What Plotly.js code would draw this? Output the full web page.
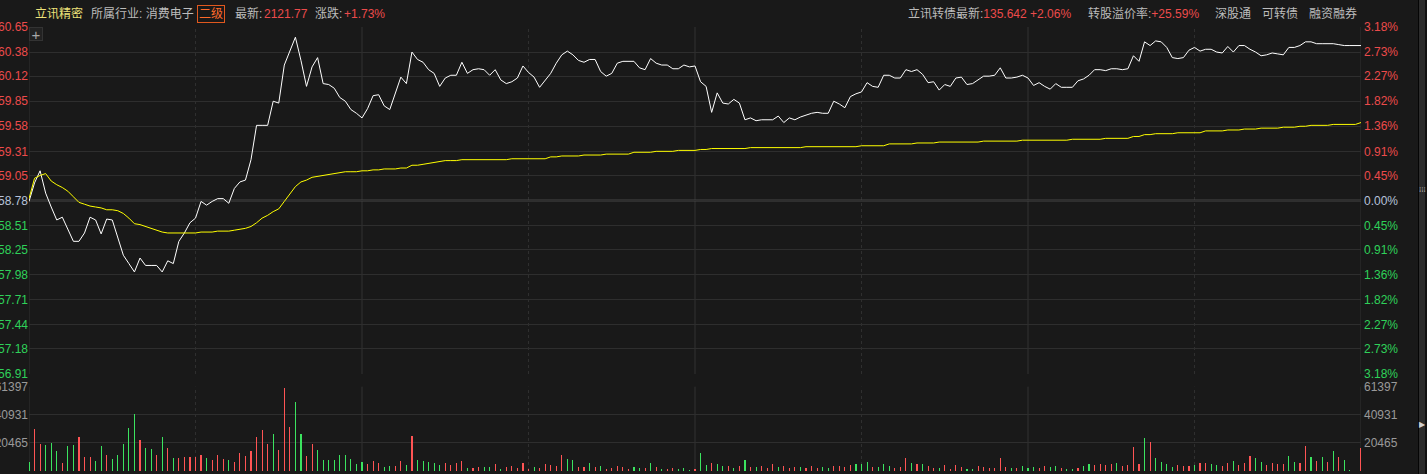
<!DOCTYPE html>
<html>
<head>
<meta charset="utf-8">
<script src="https://cdn.plot.ly/plotly-3.0.1.min.js"></script>
<style>
  html, body { margin: 0; padding: 0; background: #191919; }
  #chart { width: 1427px; height: 474px; }
</style>
</head>
<body>
<div id="chart"></div>
<script>
// ---------------- DATA ----------------
const prevClose = 58.78;

// minute index 0..240 (09:30-11:30, 13:00-15:00)
const price = [
  58.77, 58.97, 59.10, 58.86, 58.71, 58.57, 58.60, 58.47, 58.34, 58.34,
  58.43, 58.60, 58.57, 58.42, 58.58, 58.57, 58.37, 58.19, 58.10, 58.01,
  58.16, 58.08, 58.08, 58.08, 58.01, 58.13, 58.10, 58.34, 58.43, 58.54,
  58.59, 58.77, 58.73, 58.77, 58.80, 58.80, 58.75, 58.91, 58.98, 59.00,
  59.22, 59.59, 59.59, 59.59, 59.85, 59.83, 60.24, 60.38, 60.54, 60.29,
  60.01, 60.22, 60.32, 60.04, 60.03, 59.99, 59.89, 59.85, 59.76, 59.72,
  59.67, 59.77, 59.91, 59.92, 59.80, 59.76, 59.94, 60.11, 60.04, 60.38,
  60.30, 60.27, 60.19, 60.15, 60.01, 60.10, 60.13, 60.13, 60.27, 60.15,
  60.19, 60.20, 60.19, 60.13, 60.19, 60.08, 60.04, 60.06, 60.10, 60.23,
  60.16, 60.11, 60.00, 60.08, 60.15, 60.26, 60.35, 60.39, 60.35, 60.29,
  60.27, 60.30, 60.30, 60.17, 60.12, 60.15, 60.26, 60.28, 60.28, 60.28,
  60.21, 60.19, 60.31, 60.26, 60.24, 60.24, 60.20, 60.20, 60.24, 60.22,
  60.23, 60.06, 60.01, 59.73, 59.94, 59.83, 59.82, 59.87, 59.83, 59.65,
  59.67, 59.64, 59.65, 59.65, 59.65, 59.69, 59.62, 59.67, 59.65, 59.68,
  59.70, 59.72, 59.73, 59.72, 59.72, 59.85, 59.82, 59.78, 59.90, 59.93,
  59.95, 60.05, 60.01, 60.00, 60.13, 60.13, 60.10, 60.10, 60.19, 60.17,
  60.19, 60.14, 60.05, 60.06, 59.97, 60.03, 60.01, 60.10, 60.11, 60.03,
  60.04, 60.08, 60.12, 60.12, 60.13, 60.21, 60.10, 60.10, 60.11, 60.13,
  60.10, 60.02, 60.05, 60.01, 59.98, 60.04, 60.00, 60.00, 60.00, 60.07,
  60.09, 60.13, 60.19, 60.19, 60.18, 60.20, 60.20, 60.19, 60.20, 60.34,
  60.28, 60.49, 60.45, 60.50, 60.49, 60.43, 60.32, 60.31, 60.32, 60.40,
  60.43, 60.39, 60.41, 60.41, 60.38, 60.37, 60.44, 60.38, 60.45, 60.45,
  60.41, 60.38, 60.34, 60.35, 60.37, 60.36, 60.35, 60.43, 60.43, 60.45,
  60.49, 60.49, 60.47, 60.47, 60.47, 60.47, 60.46, 60.45, 60.45, 60.45,
  60.45
];

const avgPrice = [
  58.80, 59.02, 59.05, 59.07, 58.99, 58.95, 58.92, 58.88, 58.82, 58.76,
  58.74, 58.72, 58.71, 58.70, 58.68, 58.68, 58.67, 58.64, 58.59, 58.53,
  58.52, 58.50, 58.48, 58.46, 58.44, 58.43, 58.43, 58.43, 58.43, 58.43,
  58.43, 58.44, 58.44, 58.44, 58.45, 58.45, 58.45, 58.46, 58.47, 58.48,
  58.50, 58.54, 58.59, 58.62, 58.66, 58.69, 58.77, 58.85, 58.93, 58.98,
  59.00, 59.03, 59.04, 59.05, 59.06, 59.07, 59.08, 59.09, 59.09, 59.09,
  59.10, 59.10, 59.11, 59.11, 59.12, 59.12, 59.12, 59.13, 59.13, 59.16,
  59.16, 59.17, 59.18, 59.19, 59.20, 59.21, 59.21, 59.21, 59.22, 59.22,
  59.22, 59.22, 59.22, 59.22, 59.22, 59.22, 59.22, 59.23, 59.23, 59.23,
  59.23, 59.23, 59.23, 59.23, 59.25, 59.25, 59.26, 59.26, 59.26, 59.26,
  59.27, 59.27, 59.27, 59.27, 59.28, 59.28, 59.28, 59.28, 59.28, 59.30,
  59.30, 59.30, 59.30, 59.31, 59.31, 59.31, 59.31, 59.32, 59.32, 59.32,
  59.32, 59.33, 59.33, 59.34, 59.34, 59.34, 59.34, 59.34, 59.34, 59.34,
  59.35, 59.35, 59.35, 59.35, 59.35, 59.35, 59.35, 59.35, 59.35, 59.35,
  59.36, 59.36, 59.36, 59.36, 59.36, 59.36, 59.36, 59.36, 59.36, 59.36,
  59.37, 59.37, 59.37, 59.37, 59.37, 59.39, 59.39, 59.39, 59.39, 59.39,
  59.40, 59.40, 59.40, 59.40, 59.41, 59.41, 59.41, 59.41, 59.41, 59.41,
  59.41, 59.41, 59.42, 59.42, 59.42, 59.42, 59.42, 59.42, 59.42, 59.43,
  59.43, 59.43, 59.43, 59.43, 59.43, 59.43, 59.43, 59.43, 59.44, 59.44,
  59.44, 59.44, 59.44, 59.44, 59.45, 59.45, 59.45, 59.45, 59.45, 59.47,
  59.47, 59.49, 59.49, 59.50, 59.50, 59.50, 59.50, 59.51, 59.51, 59.51,
  59.51, 59.51, 59.53, 59.53, 59.53, 59.53, 59.54, 59.54, 59.54, 59.55,
  59.55, 59.55, 59.56, 59.56, 59.56, 59.56, 59.57, 59.57, 59.57, 59.58,
  59.58, 59.59, 59.59, 59.59, 59.59, 59.60, 59.60, 59.60, 59.60, 59.60,
  59.62
];

const volume = [
  6270, 30370, 20000, 18800, 20730, 14460, 5540, 18320, 18800, 24580,
  10120, 10120, 7230, 18080, 11570, 8680, 11570, 19520, 31330, 41210,
  22410, 16630, 15910, 11570, 24580, 16630, 9400, 9400, 10120, 10120,
  10120, 11570, 9400, 7950, 11570, 8680, 7950, 6510, 13010, 10850,
  14460, 24580, 29640, 19520, 26750, 15180, 60730, 31810, 50610, 26750,
  10850, 19520, 15180, 7950, 7950, 7950, 11570, 11570, 8680, 5060,
  6510, 5060, 7230, 5780, 2890, 3620, 3620, 7230, 4340, 25310,
  7950, 7230, 6510, 5780, 4340, 5780, 4340, 5780, 7230, 2170,
  2170, 2890, 2890, 2890, 5060, 1450, 2890, 3620, 2170, 5780,
  1450, 2890, 2170, 5060, 4340, 3620, 11570, 8680, 7950, 2890,
  2890, 5780, 2890, 3620, 1450, 2170, 3620, 2890, 1450, 2890,
  2170, 2170, 5780, 2890, 1450, 1450, 2170, 1450, 2170, 720,
  1450, 13010, 4340, 5780, 5060, 3620, 3620, 2170, 3620, 7950,
  2890, 2890, 3620, 2170, 5060, 2890, 3620, 2170, 2890, 2890,
  2170, 3620, 2170, 2890, 2170, 3620, 3620, 2890, 4340, 5060,
  5060, 6510, 2890, 2890, 5060, 3620, 2170, 2890, 9400, 5780,
  5060, 5060, 3620, 2170, 2170, 4340, 1450, 4340, 2890, 1450,
  1450, 3620, 2890, 2170, 2170, 9400, 2890, 2170, 2170, 3620,
  2170, 2890, 2170, 3620, 2890, 3620, 2170, 1450, 1450, 2170,
  3620, 5060, 4340, 5060, 4340, 5060, 5780, 3620, 4340, 17350,
  5060, 23860, 20970, 9400, 6510, 5060, 2890, 4340, 3620, 3620,
  4340, 5780, 5780, 5060, 4340, 3620, 5780, 7230, 4340, 5780,
  10850, 9400, 6510, 4340, 5780, 5060, 5060, 10850, 6510, 5780,
  18080, 10120, 7230, 10120, 6510, 14460, 10120, 7950, 720, 0,
  16630
];

// bar direction: r = up (red), g = down (green)
const volDir = (
  "grrgggrggrrrggrgggggrggrgrgrrrrrgrrrgrrrrrrrgrrrggrrgggggggg" +
  "grrrggrrgrgggggrrrrgrrggrgrrrrrgrrrrrggrrgrgrrrrrggrgrgrrggg" +
  "rggrggrgrgrgrrrgrrrgrrrggrrrrgggrgggrrrgrgrrgrrrrggrrrrrrgrg" +
  "ggrrggrggrggrrrrgrrrrgrggggrrrgrrggrrgrrrggrrrrggrrgrgrgrggr" +
  "r"
).split("");

const priceTicks = [60.65, 60.38, 60.12, 59.85, 59.58, 59.31, 59.05, 58.78, 58.51, 58.25, 57.98, 57.71, 57.44, 57.18, 56.91];
const pctTicks = ["3.18%", "2.73%", "2.27%", "1.82%", "1.36%", "0.91%", "0.45%", "0.00%", "0.45%", "0.91%", "1.36%", "1.82%", "2.27%", "2.73%", "3.18%"];
const volTicks = [20465, 40931, 61397];
const volTickLabels = ["20465", "40931", "61397"];

const header = {
  name: "立讯精密",
  industry: "所属行业: 消费电子",
  level: "二级",
  lastLabel: "最新:", last: "2121.77",
  chgLabel: "涨跌:", chg: "+1.73%",
  cbLabel: "立讯转债最新:", cb: "135.642 +2.06%",
  premLabel: "转股溢价率:", prem: "+25.59%",
  tags: ["深股通", "可转债", "融资融券"]
};

// ---------------- STYLE / LAYOUT ----------------
const W = 1427, H = 474;
const ML = 29, MR = 66, MT = 27, MB = 3;
const PW = W - ML - MR, PH = H - MT - MB;
const px = x => (x - ML) / PW;
const py = y => (H - MB - y) / PH;

const RED = "#ec4b4b", GREEN = "#2fd159", ZERO = "#b6c2da", GRID = "#2e2e2e";
const BG = "#191919";
const FONT = "Liberation Sans, Arial, Noto Sans CJK SC, sans-serif";

const minutes = price.map((_, i) => i);

function colorTick(v, label) {
  const c = v > prevClose + 1e-9 ? RED : (v < prevClose - 1e-9 ? GREEN : ZERO);
  return '<span style="color:' + c + '">' + label + '</span>';
}

const leftText = priceTicks.map(v => colorTick(v, v.toFixed(2)));
const rightText = priceTicks.map((v, k) => colorTick(v, pctTicks[k]));

const traces = [
  {
    x: minutes, y: price, type: "scatter", mode: "lines",
    line: { color: "#ffffff", width: 1 }, xaxis: "x", yaxis: "y", hoverinfo: "skip"
  },
  {
    x: minutes, y: avgPrice, type: "scatter", mode: "lines",
    line: { color: "#ffff00", width: 1 }, xaxis: "x", yaxis: "y2", hoverinfo: "skip"
  },
  {
    x: minutes, y: volume.map((v, i) => volDir[i] === "r" ? v : null), type: "bar",
    width: 0.2, marker: { color: "#ff5454", line: { width: 0 } }, xaxis: "x", yaxis: "y3", hoverinfo: "skip"
  },
  {
    x: minutes, y: volume.map((v, i) => volDir[i] === "g" ? v : null), type: "bar",
    width: 0.2, marker: { color: "#3be35f", line: { width: 0 } }, xaxis: "x", yaxis: "y4", hoverinfo: "skip"
  }
];

const halfHours = [0, 30, 60, 90, 120, 150, 180, 210, 240];
const shapes = [];
["y domain", "y3 domain"].forEach(yr => {
  halfHours.forEach(m => {
    const solid = (m % 60 === 0);
    shapes.push({
      type: "line", xref: "x", yref: yr, x0: m, x1: m, y0: 0, y1: 1,
      line: { color: solid ? "#333333" : "#2f2f2f", width: 1, dash: solid ? "solid" : "dot" },
      layer: "below"
    });
  });
});
shapes.push({
  type: "line", xref: "x domain", yref: "y", x0: 0, x1: 1, y0: prevClose, y1: prevClose,
  line: { color: "#474747", width: 2 }, layer: "below"
});
// right side strip
shapes.push({ type: "rect", xref: "paper", yref: "paper", x0: px(1418), x1: px(1419), y0: py(H), y1: py(0), fillcolor: "#050505", line: { width: 0 } });
shapes.push({ type: "rect", xref: "paper", yref: "paper", x0: px(1419), x1: px(1425), y0: py(H), y1: py(0), fillcolor: "#2c2c2c", line: { width: 0 } });
shapes.push({ type: "rect", xref: "paper", yref: "paper", x0: px(1425), x1: px(1427), y0: py(H), y1: py(0), fillcolor: "#121212", line: { width: 0 } });

const GRAY = "#bcbcbc";
function ann(text, x, color, extra) {
  return Object.assign({
    text: text, xref: "paper", yref: "paper", x: px(x), y: py(14),
    xanchor: "left", yanchor: "middle", showarrow: false,
    font: { family: FONT, size: 12, color: color }
  }, extra || {});
}
const annotations = [
  ann(header.name, 33, "#ede27a"),
  ann(header.industry, 89, GRAY),
  ann(header.level, 211, "#ff6a2a", { xanchor: "center", bordercolor: "#e0581e", borderwidth: 1, borderpad: 1 }),
  ann(header.lastLabel, 233, GRAY),
  ann(header.last, 262, RED),
  ann(header.chgLabel, 313, GRAY),
  ann(header.chg, 342, RED),
  ann(header.cbLabel + '<span style="color:' + RED + '">' + header.cb + '</span>', 906, GRAY),
  ann(header.premLabel + '<span style="color:' + RED + '">' + header.prem + '</span>', 1086, GRAY),
  ann(header.tags[0], 1213, GRAY),
  ann(header.tags[1], 1260, GRAY),
  ann(header.tags[2], 1307, GRAY),
  // crosshair button
  { text: "+", xref: "paper", yref: "paper", x: px(36), y: py(34), xanchor: "center", yanchor: "middle",
    showarrow: false, font: { family: FONT, size: 15, color: "#a8a8a8" },
    bgcolor: "#222222", bordercolor: "#333333", borderwidth: 1, borderpad: 0, width: 12, height: 12 },
  // strip handle and arrow
  { text: "⁞⁞⁞", xref: "paper", yref: "paper", x: px(1422), y: py(190), xanchor: "center", yanchor: "middle",
    showarrow: false, font: { family: "DejaVu Sans", size: 7, color: "#bbbbbb" } },
  { text: "▶", xref: "paper", yref: "paper", x: px(1422), y: py(424), xanchor: "center", yanchor: "middle",
    showarrow: false, font: { family: "DejaVu Sans", size: 8, color: "#d0d0d0" } }
];

const tickFont = { family: FONT, size: 12, color: "#9a9a9a" };
const priceDomain = [py(374), 1];
const volDomain = [0, py(386.7)];

const layout = {
  width: W, height: H,
  margin: { l: ML, r: MR, t: MT, b: MB, pad: 0 },
  paper_bgcolor: BG, plot_bgcolor: BG,
  showlegend: false, barmode: "overlay", bargap: 0,
  xaxis: { range: [0, 240], showgrid: false, zeroline: false, showticklabels: false, ticks: "", showline: false, anchor: "y3", fixedrange: true },
  yaxis: {
    domain: priceDomain, range: [priceTicks[priceTicks.length - 1], priceTicks[0]],
    tickmode: "array", tickvals: priceTicks, ticktext: leftText,
    showgrid: true, gridcolor: GRID, gridwidth: 1, zeroline: false, showline: false, ticks: "",
    tickfont: tickFont, side: "left", ticklabelstandoff: 0
  },
  yaxis2: {
    overlaying: "y", side: "right", range: [priceTicks[priceTicks.length - 1], priceTicks[0]],
    tickmode: "array", tickvals: priceTicks, ticktext: rightText,
    showgrid: false, zeroline: false, showline: false, ticks: "", tickfont: tickFont, ticklabelstandoff: 2
  },
  yaxis3: {
    domain: volDomain, range: [0, volTicks[volTicks.length - 1]],
    tickmode: "array", tickvals: volTicks, ticktext: volTickLabels,
    showgrid: true, gridcolor: GRID, zeroline: false, showline: false, ticks: "",
    tickfont: tickFont, side: "left", ticklabelstandoff: 0
  },
  yaxis4: {
    overlaying: "y3", side: "right", range: [0, volTicks[volTicks.length - 1]],
    tickmode: "array", tickvals: volTicks, ticktext: volTickLabels,
    showgrid: false, zeroline: false, showline: false, ticks: "", tickfont: tickFont, ticklabelstandoff: 2
  },
  shapes: shapes,
  annotations: annotations
};

Plotly.newPlot("chart", traces, layout, { staticPlot: true, displayModeBar: false });
</script>
</body>
</html>
